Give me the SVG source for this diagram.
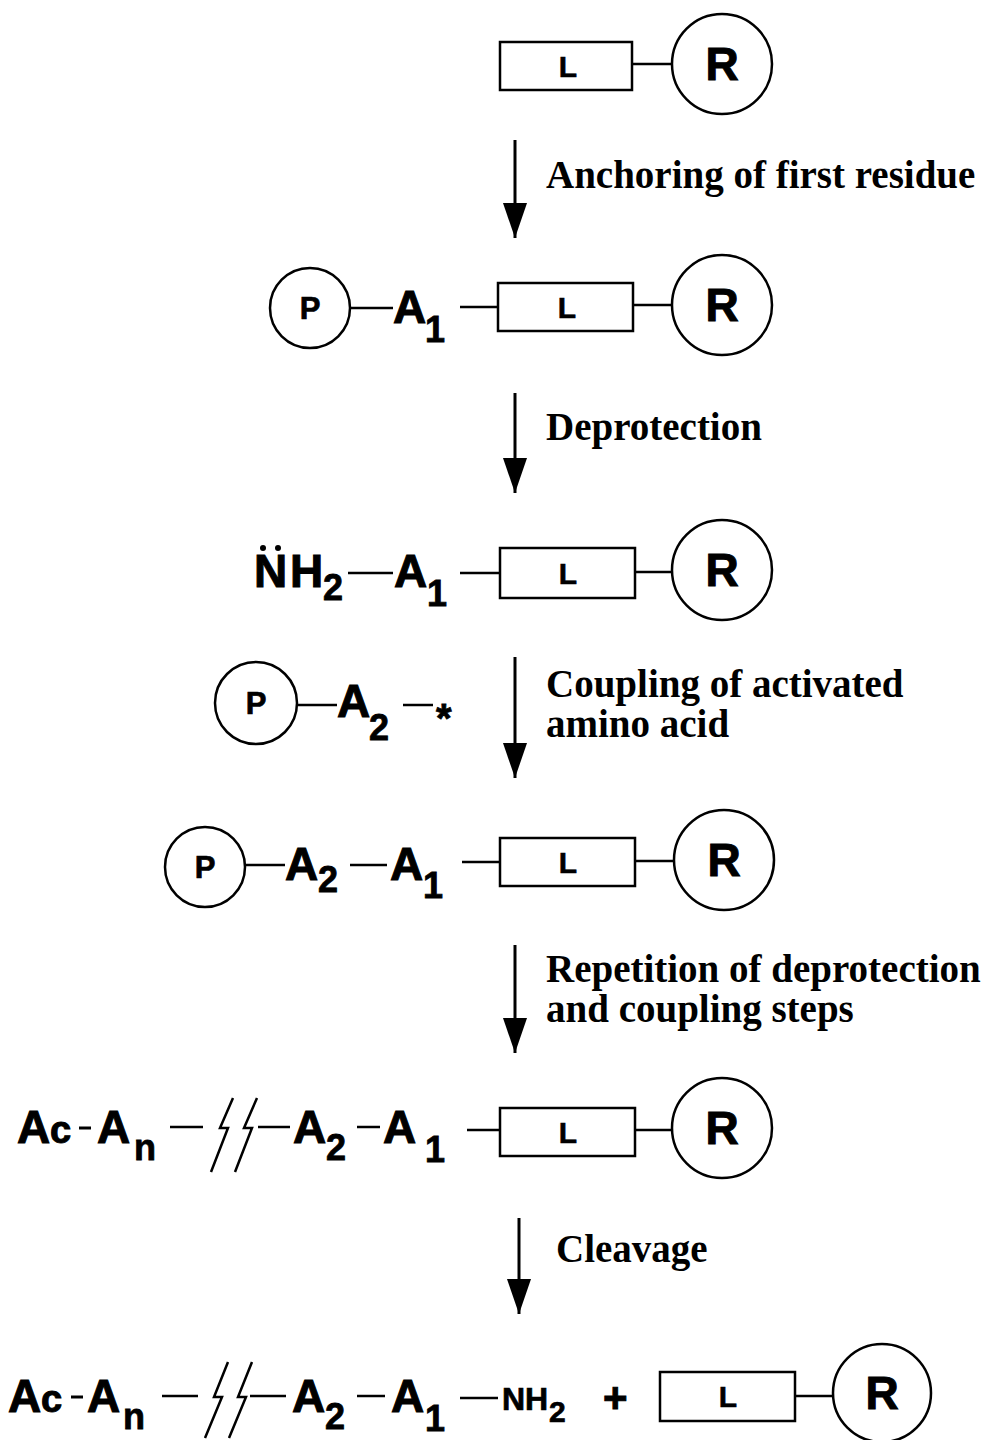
<svg xmlns="http://www.w3.org/2000/svg" width="990" height="1440" viewBox="0 0 990 1440">
<defs>
<style>
.ln{stroke:#000;stroke-width:2.5;fill:none}
.bx{stroke:#000;stroke-width:2.5;fill:#fff}
.ch{font-family:"Liberation Sans",Arial,sans-serif;font-weight:bold;fill:#000;stroke:#000;stroke-width:1}
.big{font-size:46px}
.sub{font-size:36px;stroke-width:0.8}
.lt{font-size:30px;stroke-width:0.6}
.rt{font-size:46px}
.pt{font-size:31px;stroke-width:0.7}
.cc{font-size:38px}
.lab{font-family:"Liberation Serif","Times New Roman",serif;font-weight:bold;font-size:39px;fill:#000}
.ar{stroke:#000;stroke-width:3}
</style>
<marker id="ah" viewBox="0 0 24 35" refX="12" refY="35" markerWidth="24" markerHeight="35" markerUnits="userSpaceOnUse">
<path d="M0 0 L24 0 L12 35 Z" fill="#000"/>
</marker>
</defs>
<rect width="990" height="1440" fill="#fff"/>

<!-- Row 1 -->
<g id="row1">
<rect class="bx" x="500" y="42" width="132" height="48"/>
<text class="ch lt" x="568" y="77" text-anchor="middle">L</text>
<line class="ln" x1="632" y1="64" x2="672" y2="64"/>
<circle class="bx" cx="722" cy="64" r="50"/>
<text class="ch rt" x="722" y="80" text-anchor="middle">R</text>
</g>

<!-- Row 2 -->
<g id="row2">
<circle class="bx" cx="310" cy="308" r="40"/>
<text class="ch pt" x="310" y="319" text-anchor="middle">P</text>
<line class="ln" x1="350" y1="308" x2="393" y2="308"/>
<text class="ch big" x="393" y="323">A</text>
<text class="ch sub" x="425" y="342">1</text>
<line class="ln" x1="460" y1="307" x2="498" y2="307"/>
<rect class="bx" x="498" y="283" width="135" height="48"/>
<text class="ch lt" x="567" y="318" text-anchor="middle">L</text>
<line class="ln" x1="633" y1="305" x2="672" y2="305"/>
<circle class="bx" cx="722" cy="305" r="50"/>
<text class="ch rt" x="722" y="321" text-anchor="middle">R</text>
</g>

<!-- Row 3 -->
<g id="row3">
<text class="ch big" x="254" y="587">N</text>
<circle cx="263" cy="548" r="3" fill="#000"/>
<circle cx="278" cy="548" r="3" fill="#000"/>
<text class="ch big" x="290" y="587">H</text>
<text class="ch sub" x="323" y="600">2</text>
<line class="ln" x1="348" y1="573" x2="393" y2="573"/>
<text class="ch big" x="394" y="587">A</text>
<text class="ch sub" x="427" y="606">1</text>
<line class="ln" x1="460" y1="573" x2="500" y2="573"/>
<rect class="bx" x="500" y="548" width="135" height="50"/>
<text class="ch lt" x="568" y="584" text-anchor="middle">L</text>
<line class="ln" x1="635" y1="572" x2="673" y2="572"/>
<circle class="bx" cx="722" cy="570" r="50"/>
<text class="ch rt" x="722" y="586" text-anchor="middle">R</text>
</g>

<!-- Reagent -->
<g id="reagent">
<circle class="bx" cx="256" cy="703" r="41"/>
<text class="ch pt" x="256" y="714" text-anchor="middle">P</text>
<line class="ln" x1="298" y1="705" x2="337" y2="705"/>
<text class="ch big" x="337" y="717">A</text>
<text class="ch sub" x="369" y="740">2</text>
<line class="ln" x1="403" y1="705" x2="433" y2="705"/>
<text class="ch" style="font-size:40px;stroke-width:0.8" x="436" y="732">*</text>
</g>

<!-- Row 5 -->
<g id="row5">
<circle class="bx" cx="205" cy="867" r="40"/>
<text class="ch pt" x="205" y="878" text-anchor="middle">P</text>
<line class="ln" x1="245" y1="865" x2="285" y2="865"/>
<text class="ch big" x="285" y="880">A</text>
<text class="ch sub" x="318" y="892">2</text>
<line class="ln" x1="350" y1="865" x2="387" y2="865"/>
<text class="ch big" x="390" y="880">A</text>
<text class="ch sub" x="423" y="898">1</text>
<line class="ln" x1="462" y1="862" x2="500" y2="862"/>
<rect class="bx" x="500" y="838" width="135" height="48"/>
<text class="ch lt" x="568" y="873" text-anchor="middle">L</text>
<line class="ln" x1="635" y1="861" x2="674" y2="861"/>
<circle class="bx" cx="724" cy="860" r="50"/>
<text class="ch rt" x="724" y="876" text-anchor="middle">R</text>
</g>

<!-- Row 6 -->
<g id="row6">
<text class="ch big" x="17" y="1143">A</text>
<text class="ch cc" x="50" y="1143">c</text>
<line class="ln" x1="79" y1="1128" x2="91" y2="1128" style="stroke-width:3"/>
<text class="ch big" x="97" y="1143">A</text>
<text class="ch sub" x="134" y="1160">n</text>
<line class="ln" x1="170" y1="1127" x2="203" y2="1127"/>
<path class="ln" d="M233 1098 L220 1128 L228 1128 L211 1172"/>
<path class="ln" d="M257 1098 L244 1128 L252 1128 L235 1172"/>
<line class="ln" x1="258" y1="1127" x2="290" y2="1127"/>
<text class="ch big" x="293" y="1143">A</text>
<text class="ch sub" x="326" y="1160">2</text>
<line class="ln" x1="357" y1="1127" x2="380" y2="1127"/>
<text class="ch big" x="383" y="1143">A</text>
<text class="ch sub" x="425" y="1162">1</text>
<line class="ln" x1="467" y1="1130" x2="500" y2="1130"/>
<rect class="bx" x="500" y="1108" width="135" height="48"/>
<text class="ch lt" x="568" y="1143" text-anchor="middle">L</text>
<line class="ln" x1="635" y1="1130" x2="673" y2="1130"/>
<circle class="bx" cx="722" cy="1128" r="50"/>
<text class="ch rt" x="722" y="1144" text-anchor="middle">R</text>
</g>

<!-- Row 7 -->
<g id="row7">
<text class="ch big" x="8" y="1412">A</text>
<text class="ch cc" x="41" y="1412">c</text>
<line class="ln" x1="71" y1="1397" x2="83" y2="1397" style="stroke-width:3"/>
<text class="ch big" x="87" y="1412">A</text>
<text class="ch sub" x="123" y="1429">n</text>
<line class="ln" x1="162" y1="1396" x2="198" y2="1396"/>
<path class="ln" d="M228 1362 L214 1397 L222 1397 L205 1438"/>
<path class="ln" d="M252 1362 L238 1397 L246 1397 L229 1438"/>
<line class="ln" x1="250" y1="1396" x2="286" y2="1396"/>
<text class="ch big" x="292" y="1412">A</text>
<text class="ch sub" x="325" y="1429">2</text>
<line class="ln" x1="357" y1="1396" x2="385" y2="1396"/>
<text class="ch big" x="391" y="1412">A</text>
<text class="ch sub" x="425" y="1431">1</text>
<line class="ln" x1="460" y1="1398" x2="498" y2="1398"/>
<text class="ch" style="font-size:32px;stroke-width:0.7" x="502" y="1410">NH</text>
<text class="ch" style="font-size:30px;stroke-width:0.7" x="549" y="1422">2</text>
<text class="ch" style="font-size:42px" x="603" y="1412">+</text>
<rect class="bx" x="660" y="1372" width="135" height="49"/>
<text class="ch lt" x="728" y="1407" text-anchor="middle">L</text>
<line class="ln" x1="795" y1="1396" x2="834" y2="1396"/>
<circle class="bx" cx="882" cy="1393" r="49"/>
<text class="ch rt" x="882" y="1409" text-anchor="middle">R</text>
</g>

<!-- Connectors -->
<g id="connectors">
<line class="ar" x1="515" y1="140" x2="515" y2="238" marker-end="url(#ah)"/>
<line class="ar" x1="515" y1="393" x2="515" y2="493" marker-end="url(#ah)"/>
<line class="ar" x1="515" y1="657" x2="515" y2="778" marker-end="url(#ah)"/>
<line class="ar" x1="515" y1="945" x2="515" y2="1053" marker-end="url(#ah)"/>
<line class="ar" x1="519" y1="1218" x2="519" y2="1314" marker-end="url(#ah)"/>
</g>

<!-- Labels -->
<g id="labels">
<text class="lab" x="546" y="188">Anchoring of first residue</text>
<text class="lab" x="546" y="440">Deprotection</text>
<text class="lab" x="546" y="697">Coupling of activated</text>
<text class="lab" x="546" y="737">amino acid</text>
<text class="lab" x="546" y="982">Repetition of deprotection</text>
<text class="lab" x="546" y="1022">and coupling steps</text>
<text class="lab" x="556" y="1262">Cleavage</text>
</g>
</svg>
